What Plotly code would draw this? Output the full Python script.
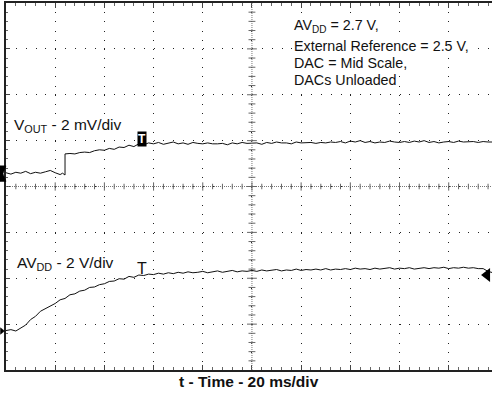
import plotly.graph_objects as go

# ---- data (oscilloscope divisions) ----
t_vout = [0.0, 0.1, 0.2, 0.3, 0.4, 0.5, 0.6, 0.7, 0.8, 0.9, 1.0, 1.1, 1.15, 1.2, 1.2,
          1.3, 1.4, 1.5, 1.6, 1.7, 1.8, 1.9, 2.0, 2.1, 2.2, 2.3, 2.4, 2.5, 2.6, 2.7, 2.8, 2.9,
          3.0, 3.1, 3.2, 3.3, 3.4, 3.5, 3.6, 3.7, 3.8, 3.9, 4.0, 4.1, 4.2, 4.3, 4.4, 4.5, 4.6,
          4.7, 4.8, 4.9, 5.0, 5.1, 5.2, 5.3, 5.4, 5.5, 5.6, 5.7, 5.8, 5.9, 6.0, 6.1, 6.2, 6.3,
          6.4, 6.5, 6.6, 6.7, 6.8, 6.9, 7.0, 7.1, 7.2, 7.3, 7.4, 7.5, 7.6, 7.7, 7.8, 7.9, 8.0,
          8.1, 8.2, 8.3, 8.4, 8.5, 8.6, 8.7, 8.8, 8.9, 9.0, 9.1, 9.2, 9.3, 9.4, 9.5, 9.6, 9.7,
          9.8, 9.9]
vout = [0.30, 0.27, 0.31, 0.29, 0.33, 0.28, 0.31, 0.29, 0.32, 0.35, 0.30, 0.26, 0.29, 0.25, 0.71,
        0.72, 0.71, 0.74, 0.75, 0.74, 0.78, 0.80, 0.79, 0.83, 0.81, 0.86, 0.85, 0.90, 0.87, 0.93,
        0.91, 0.95, 0.93, 0.96, 0.92, 0.94, 0.97, 0.93, 0.95, 0.92, 0.96, 0.94, 0.93, 0.95, 0.93,
        0.93, 0.94, 0.91, 0.95, 0.93, 0.96, 0.94, 0.94, 0.95, 0.92, 0.96, 0.94, 0.97, 0.95, 0.95,
        0.93, 0.97, 0.95, 0.96, 0.96, 0.94, 0.96, 0.95, 0.97, 0.96, 0.98, 0.95, 0.99, 0.97, 1.00,
        0.96, 0.98, 0.95, 0.97, 0.96, 0.99, 0.97, 0.96, 0.98, 0.96, 0.99, 0.97, 1.00, 0.96, 0.98,
        0.95, 0.97, 0.98, 0.96, 0.99, 0.97, 0.97, 0.98, 0.96, 0.98, 0.97, 0.97]

t_avdd = [0.0, 0.1, 0.2, 0.3, 0.4, 0.5, 0.6, 0.7, 0.8, 0.9, 1.0, 1.1, 1.2, 1.3, 1.4, 1.5, 1.6,
          1.7, 1.8, 1.9, 2.0, 2.1, 2.2, 2.3, 2.4, 2.5, 2.6, 2.7, 2.8, 2.9, 3.0, 3.1, 3.2, 3.3,
          3.4, 3.5, 3.6, 3.7, 3.8, 3.9, 4.0, 4.1, 4.2, 4.3, 4.4, 4.5, 4.6, 4.7, 4.8, 4.9, 5.0,
          5.1, 5.2, 5.3, 5.4, 5.5, 5.6, 5.7, 5.8, 5.9, 6.0, 6.1, 6.2, 6.3, 6.4, 6.5, 6.6, 6.7,
          6.8, 6.9, 7.0, 7.1, 7.2, 7.3, 7.4, 7.5, 7.6, 7.7, 7.8, 7.9, 8.0, 8.1, 8.2, 8.3, 8.4,
          8.5, 8.6, 8.7, 8.8, 8.9, 9.0, 9.1, 9.2, 9.3, 9.4, 9.5, 9.6, 9.7, 9.8, 9.9]
avdd = [-3.14, -3.12, -3.15, -3.08, -3.02, -2.90, -2.83, -2.72, -2.66, -2.60, -2.55, -2.47,
        -2.44, -2.36, -2.34, -2.28, -2.26, -2.20, -2.19, -2.14, -2.12, -2.07, -2.06, -2.01,
        -2.02, -1.96, -1.98, -1.93, -1.94, -1.91, -1.92, -1.89, -1.91, -1.88, -1.90, -1.87,
        -1.89, -1.86, -1.88, -1.87, -1.85, -1.88, -1.86, -1.84, -1.87, -1.85, -1.83, -1.86,
        -1.84, -1.85, -1.83, -1.85, -1.82, -1.84, -1.83, -1.81, -1.84, -1.82, -1.83, -1.80,
        -1.83, -1.81, -1.82, -1.80, -1.82, -1.79, -1.82, -1.80, -1.81, -1.79, -1.81, -1.78,
        -1.80, -1.79, -1.81, -1.78, -1.80, -1.79, -1.77, -1.80, -1.78, -1.79, -1.77, -1.80,
        -1.78, -1.77, -1.79, -1.77, -1.78, -1.76, -1.79, -1.77, -1.78, -1.76, -1.78, -1.77,
        -1.79, -1.79, -1.85, -1.88]

# channel / trigger marker levels (divisions)
vout_ref_level = 0.28
avdd_ref_level = -3.15
avdd_right_marker = -1.93
trigger_t = 2.76

info_lines = ["AV<sub>DD</sub> = 2.7 V,", "External Reference = 2.5 V,",
              "DAC = Mid Scale,", "DACs Unloaded"]
info_y = [3.50, 3.06, 2.69, 2.32]

FONT = "Arial, Liberation Sans, sans-serif"
GRID = "#222"

fig = go.Figure()
fig.add_trace(go.Scatter(x=t_vout, y=vout, mode="lines",
                         line=dict(color="#111", width=1), showlegend=False))
fig.add_trace(go.Scatter(x=t_avdd, y=avdd, mode="lines",
                         line=dict(color="#111", width=1), showlegend=False))
fig.add_trace(go.Scatter(x=[9.78], y=[avdd_right_marker], mode="markers", cliponaxis=False,
                         marker=dict(symbol="triangle-left", size=12, color="#000"), showlegend=False))

# channel ground markers left of the frame (paper x, data y)
px = 1 / 486.0  # one pixel in paper units
v0 = vout_ref_level
fig.add_shape(type="path", xref="paper", yref="y",
              path=f"M {-6*px} {v0+0.17} L 0 {v0+0.17} L {-3*px} {v0} L 0 {v0-0.17} L {-6*px} {v0-0.17} Z",
              fillcolor="#000", line=dict(color="#000", width=0.5))
a0 = avdd_ref_level
fig.add_shape(type="path", xref="paper", yref="y",
              path=f"M {-5.5*px} {a0+0.07} L {-1.5*px} {a0} L {-5.5*px} {a0-0.07} Z",
              fillcolor="#000", line=dict(color="#000", width=0.5))

# center cross lines (dense dotted) with small ticks
fig.add_shape(type="line", x0=5, x1=5, y0=-4, y1=4, line=dict(color="#777", width=1, dash="1px,1px"))
fig.add_shape(type="line", x0=0, x1=10, y0=0, y1=0, line=dict(color="#777", width=1, dash="1px,1px"))
for i in range(1, 40):
    yy = -4 + i * 0.2
    w = 0.07 if i % 5 else 0.1
    fig.add_shape(type="line", x0=5 - w, x1=5 + w, y0=yy, y1=yy, line=dict(color="#666", width=1))
for i in range(1, 50):
    xx = i * 0.2
    h = 0.06 if i % 5 else 0.09
    fig.add_shape(type="line", x0=xx, x1=xx, y0=-h, y1=h, line=dict(color="#666", width=1))

# labels
fig.add_annotation(x=0.14, y=1.34, xref="x", yref="y", xanchor="left", yanchor="middle",
                   text="V<sub>OUT</sub> - 2 mV/div", showarrow=False, bgcolor="white", borderpad=0,
                   font=dict(family=FONT, size=15.5, color="#111"))
fig.add_annotation(x=0.20, y=-1.67, xref="x", yref="y", xanchor="left", yanchor="middle",
                   text="AV<sub>DD</sub> - 2 V/div", showarrow=False, bgcolor="white", borderpad=0,
                   font=dict(family=FONT, size=15.5, color="#111"))
for txt, yy in zip(info_lines, info_y):
    fig.add_annotation(x=5.83, y=yy, xref="x", yref="y", xanchor="left", yanchor="middle",
                       text=txt, showarrow=False, bgcolor="white", borderpad=0,
                       font=dict(family=FONT, size=14.3, color="#111"))
# trigger markers
fig.add_annotation(x=trigger_t, y=1.03, xref="x", yref="y", text="<b>T</b>", showarrow=False,
                   bgcolor="#000", borderpad=0, font=dict(family=FONT, size=12, color="#fff"))
fig.add_annotation(x=trigger_t, y=-1.78, xref="x", yref="y", text="T", showarrow=False,
                   font=dict(family=FONT, size=16, color="#111"))
# x title
fig.add_annotation(x=0.5, y=0, xref="paper", yref="paper", yanchor="top", yshift=-1,
                   text="<b>t - Time - 20 ms/div</b>", showarrow=False,
                   font=dict(family=FONT, size=15.5, color="#111"))

fig.update_xaxes(range=[0, 9.88], dtick=1, tick0=0, showticklabels=False,
                 showgrid=True, gridcolor=GRID, gridwidth=1, griddash="1px,8.18px",
                 zeroline=False, showline=True, linecolor="#222", linewidth=1.5,
                 mirror="ticks", ticks="inside", ticklen=5, tickcolor="#444",
                 minor=dict(dtick=0.2, ticks="inside", ticklen=3, tickcolor="#666", showgrid=False))
fig.update_yaxes(range=[-4, 4], dtick=1, tick0=0, showticklabels=False,
                 showgrid=True, gridcolor=GRID, gridwidth=1, griddash="1px,8.84px",
                 zeroline=False, showline=True, linecolor="#222", linewidth=2,
                 mirror=False, ticks="inside", ticklen=4, tickcolor="#444",
                 minor=dict(dtick=0.2, ticks="inside", ticklen=2, tickcolor="#666", showgrid=False))

fig.update_layout(width=492, height=394, margin=dict(l=6, r=0, t=3, b=24),
                  paper_bgcolor="white", plot_bgcolor="white", showlegend=False)

fig.write_html("out.html", config={"displayModeBar": False},
               post_script="document.body.style.margin='0';document.body.style.padding='0';")
